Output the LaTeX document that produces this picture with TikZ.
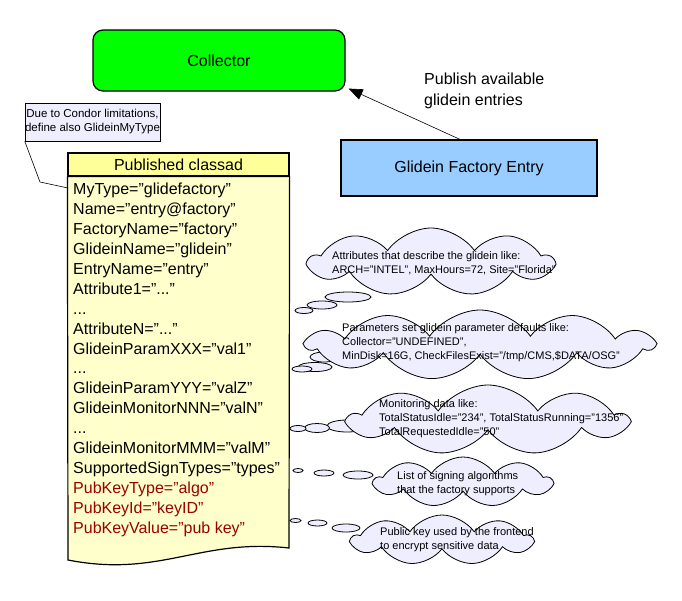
\documentclass[tikz,border=0pt]{standalone}
\usepackage{fontspec}
\setmainfont{Liberation Sans}
\usetikzlibrary{shapes.symbols,arrows.meta}

\definecolor{collgreen}{HTML}{00FF00}
\definecolor{factblue}{HTML}{99CCFF}
\definecolor{adhead}{HTML}{FFFF99}
\definecolor{adbody}{HTML}{FFFFCC}
\definecolor{puffill}{HTML}{EEEEFF}
\definecolor{keyred}{HTML}{990000}

\begin{document}
\begin{tikzpicture} [
  x=1pt,y=-1pt,
  every node/.style={font=\fontsize{16}{20}\selectfont},
  solidbox/.style={draw,line width=1.2pt,inner sep=0},
  thought/.style={cloud,cloud puffs=9,cloud puff arc=110,cloud ignores aspect,draw,fill=puffill,line width=0.8pt,inner sep=0},
  bubble/.style={draw,fill=puffill,line width=0.8pt},
  smalltext/.style={font=\fontsize{11}{14}\selectfont,align=left,inner sep=0,anchor=north west}
  ]
  \useasboundingbox (0,0) rectangle (682,600);

  \node (collector) [solidbox,fill=collgreen,rounded corners=10pt,minimum width=252pt,minimum height=61pt] at (219,60.5) {Collector};
  \node (factory) [solidbox,fill=factblue,minimum width=256pt,minimum height=56pt] at (469,168) {Glidein Factory Entry};
  \node (publish) [align=left,anchor=north west,inner sep=0,font=\fontsize{16}{21}\selectfont] at (424,73) {Publish available\\glidein entries};
  \draw [-{Triangle[length=14pt,width=11pt]},line width=0.6pt] ([xshift=-9pt]factory.north) -- ([shift={(3,-3)}]collector.south east);

  \node (note) [draw,line width=0.6pt,fill=puffill,minimum width=129pt,minimum height=38pt,align=center,inner sep=0,font=\fontsize{11.5}{14}\selectfont] at (92.5,122) {Due to Condor limitations,\\define also GlideinMyType};

  \node (head) [solidbox,fill=adhead,minimum width=221pt,minimum height=23pt] at (178.5,164.5) {Published classad};
  \draw [line width=1.2pt,fill=adbody] (head.south west) -- (head.south east) -- (289,548) .. controls (200,538) and (160,578) .. (68,560) -- cycle;
  \node (attrs) [align=left,anchor=north west,inner sep=0,font=\fontsize{16}{19.9}\selectfont] at (73,183) {MyType=”glidefactory”\\
    Name=”entry@factory”\\
    FactoryName=”factory”\\
    GlideinName=”glidein”\\
    EntryName=”entry”\\
    Attribute1=”...”\\
    ...\\
    AttributeN=”...”\\
    GlideinParamXXX=”val1”\\
    ...\\
    GlideinParamYYY=”valZ”\\
    GlideinMonitorNNN=”valN”\\
    ...\\
    GlideinMonitorMMM=”valM”\\
    SupportedSignTypes=”types”\\
    \textcolor{keyred}{PubKeyType=”algo”}\\
    \textcolor{keyred}{PubKeyId=”keyID”}\\
    \textcolor{keyred}{PubKeyValue=”pub key”}};
  \coordinate (hook) at (68,188);
  \draw [line width=0.6pt] (note.south west) -- (40,182) -- (hook);

  \draw [bubble] (348,297) ellipse (23pt and 5pt);
  \draw [bubble] (322,305) ellipse (15pt and 4pt);
  \draw [bubble] (304,310.5) ellipse (9pt and 3pt);
  \node (c1) [thought,minimum width=243pt,minimum height=68pt] at (431,262) {};
  \node (t1) [smalltext] at (332,251) {Attributes that describe the glidein like:\\ARCH=”INTEL”, MaxHours=72, Site=”Florida”};

  \draw [bubble] (324,357) ellipse (14pt and 5pt);
  \draw [bubble] (315,367) ellipse (17pt and 4.5pt);
  \draw [bubble] (302,369) ellipse (10pt and 3pt);
  \node (c2) [thought,cloud puffs=11,minimum width=346pt,minimum height=70pt] at (480,345) {};
  \node (t2) [smalltext] at (342,323) {Parameters set glidein parameter defaults like:\\Collector=”UNDEFINED”,\\MinDisk=16G, CheckFilesExist=”/tmp/CMS,\$DATA/OSG”};

  \draw [bubble] (347,426) ellipse (20pt and 6pt);
  \draw [bubble] (317,428) ellipse (12.5pt and 4.5pt);
  \draw [bubble] (298,428.5) ellipse (8pt and 3pt);
  \node (c3) [thought,minimum width=277pt,minimum height=70pt] at (488,420) {};
  \node (t3) [smalltext] at (379,399) {Monitoring data like:\\TotalStatusIdle=”234”, TotalStatusRunning=”1356”\\TotalRequestedIdle=”50”};

  \draw [bubble] (358,475) ellipse (15pt and 4pt);
  \draw [bubble] (324,473) ellipse (10pt and 3pt);
  \draw [bubble] (298,470.5) ellipse (5pt and 2pt);
  \node (c4) [thought,minimum width=177pt,minimum height=50pt] at (463,482) {};
  \node (t4) [smalltext] at (397,471) {List of signing algorithms\\that the factory supports};

  \draw [bubble] (346,528) ellipse (14pt and 4pt);
  \draw [bubble] (317.5,523) ellipse (9.5pt and 3pt);
  \draw [bubble] (295.5,520.5) ellipse (5.5pt and 2pt);
  \node (c5) [thought,minimum width=180pt,minimum height=50pt] at (442,540) {};
  \node (t5) [smalltext] at (380,527) {Public key used by the frontend\\to encrypt sensitive data};
\end{tikzpicture}
\end{document}
